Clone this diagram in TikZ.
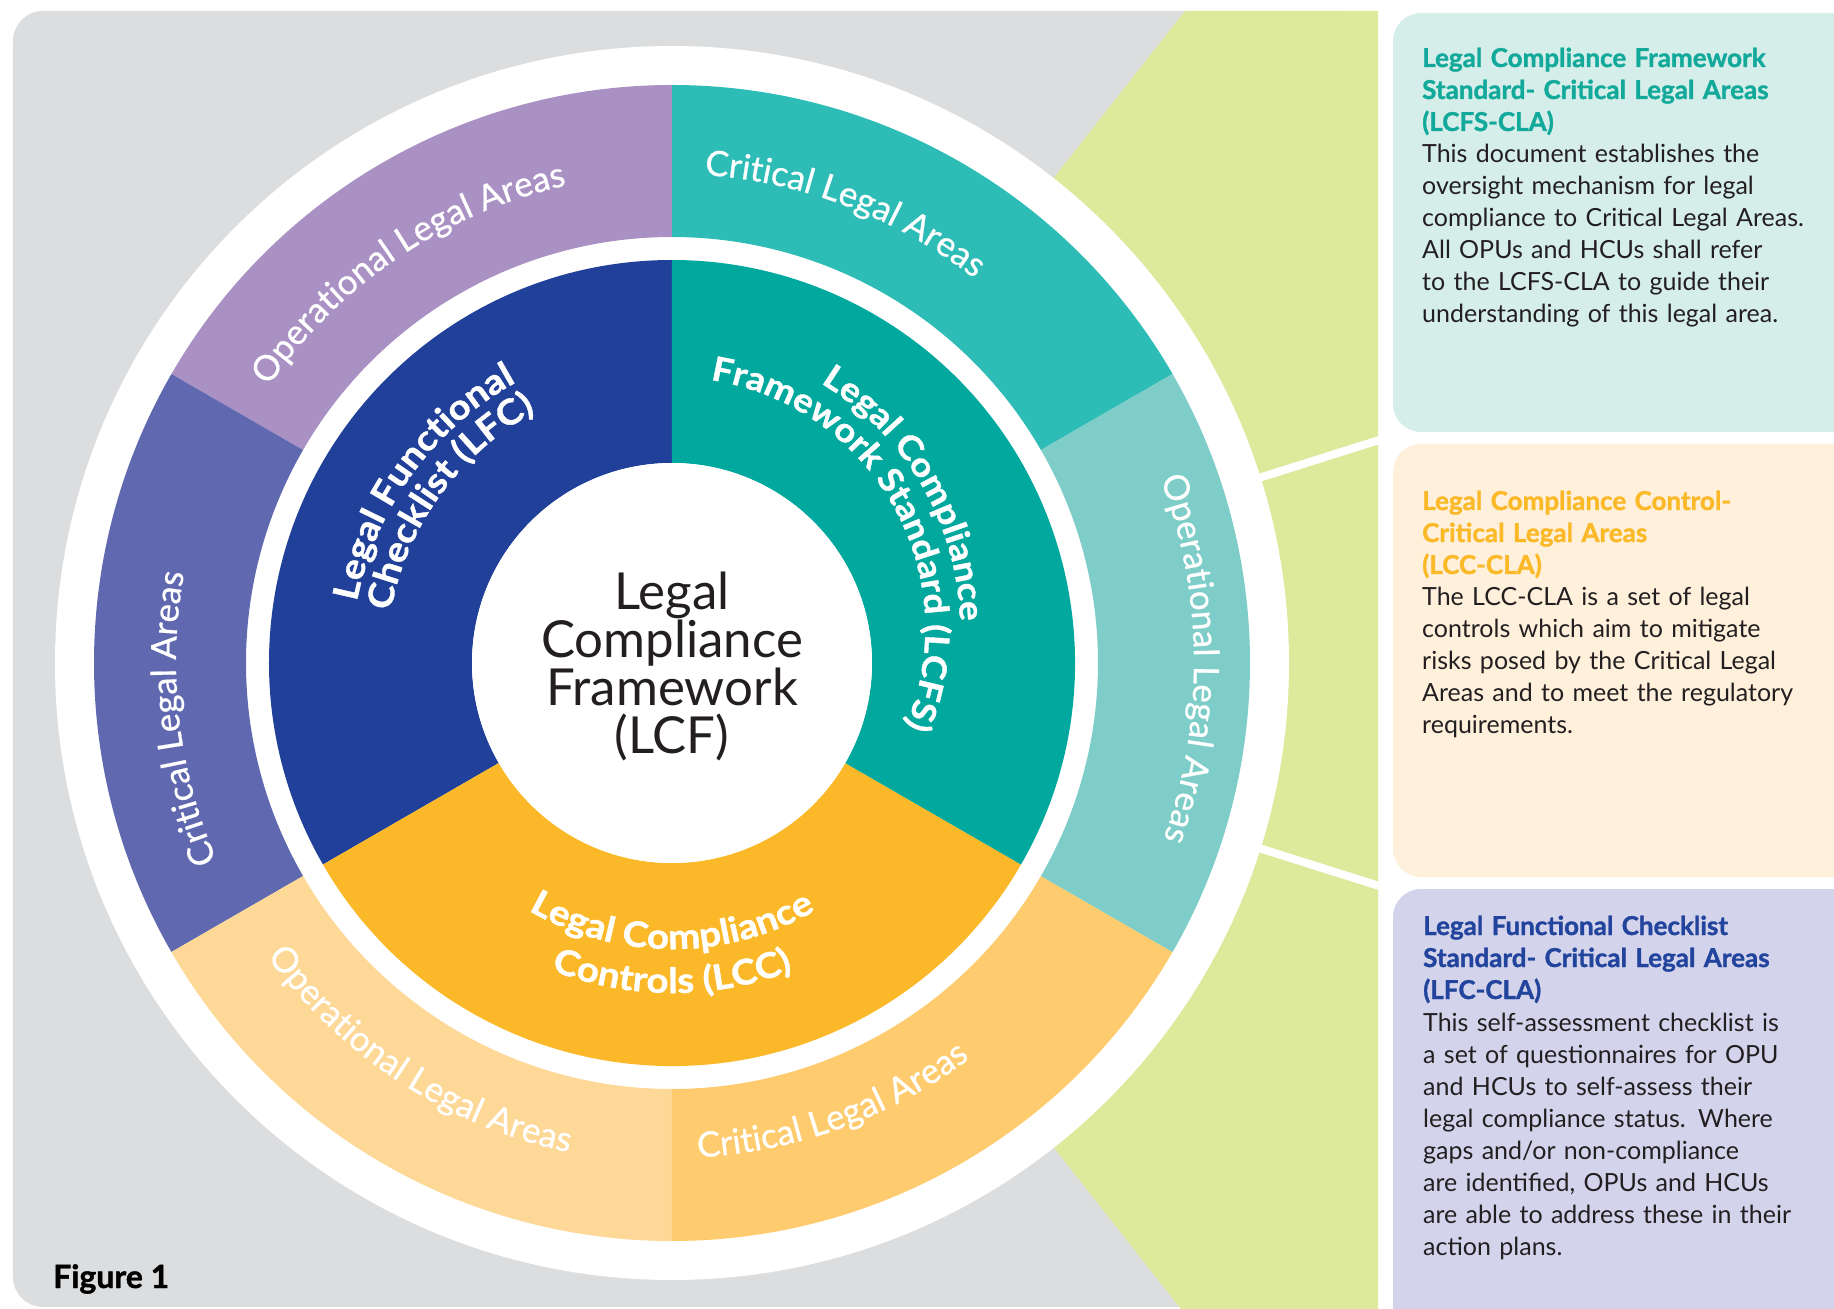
\documentclass[tikz,border=0pt]{standalone}
\usepackage{fontspec}
\setmainfont{Lato}
\newfontfamily\medfont{Lato}[FakeBold=0.6]
\newfontfamily\heavyfont{Lato}[BoldFeatures={FakeBold=1.2}]
\newfontfamily\ringheavy{Lato}[BoldFeatures={FakeBold=1.2,FakeStretch=1.1}]
\usetikzlibrary{decorations.text}
\definecolor{bgGray}{HTML}{DCDDDF}
\definecolor{wedgeGreen}{HTML}{DDE99B}
\definecolor{oTeal}{HTML}{2EBDB6}
\definecolor{oPurple}{HTML}{AA91C4}
\definecolor{oBlue}{HTML}{6069B0}
\definecolor{oLightOrange}{HTML}{FDD896}
\definecolor{oOrange}{HTML}{FECC6E}
\definecolor{oLightTeal}{HTML}{7ECDC8}
\definecolor{iBlue}{HTML}{204099}
\definecolor{iTeal}{HTML}{00A89D}
\definecolor{iYellow}{HTML}{FBB828}
\definecolor{boxTeal}{HTML}{D5EEEA}
\definecolor{boxCream}{HTML}{FEF0DB}
\definecolor{boxLav}{HTML}{D3D3EC}
\definecolor{ttlTeal}{HTML}{12A99B}
\definecolor{ttlYellow}{HTML}{FBB827}
\definecolor{ttlBlue}{HTML}{22449C}
\definecolor{inkDark}{HTML}{231F20}
\newcommand{\sector}[5]{\fill[#1] (#2:#4pt) arc[start angle=#2,end angle=#3,radius=#4pt] -- (#3:#5pt) arc[start angle=#3,end angle=#2,radius=#5pt] -- cycle;}
\newcommand{\ringtext}[5]{\path[decorate,decoration={text along path,text align=center,text={|#4|#5}}] (#2:#1pt) arc[start angle=#2,end angle=#3,radius=#1pt];}
\newcommand{\spiraltext}[6]{\path[decorate,decoration={text along path,text align=center,text={|#5|#6}}] plot[domain=#3:#4,samples=121,variable=\t] (\t:{#1+#2*sin(\t)});}
\newcommand{\ttl}[2]{\textcolor{#1}{\heavyfont\bfseries\fontsize{26}{32}\selectfont #2}}
\newcommand{\outerfmt}{\color{white}\medfont\fontsize{35}{35}\selectfont}
\newcommand{\innerfmt}{\color{white}\ringheavy\bfseries\fontsize{35}{35}\selectfont}
\newcommand{\tealfmt}{\color{white}\ringheavy\bfseries\fontsize{33.5}{33.5}\selectfont}
\tikzset{
  boxtext/.style={anchor=base west, inner sep=0pt, text width=440pt, align=left, text=inkDark, font=\fontsize{25}{32}\selectfont},
  infobox/.style={rounded corners=28pt},
}
\begin{document}
\begin{tikzpicture}[x=1pt,y=1pt]
\useasboundingbox (-672,-646) rectangle (1162,663);
% background
\fill[bgGray, rounded corners=30pt] (-659,-644) rectangle (706,652);
\fill[wedgeGreen] (0,0) -- (513,652) -- (706,652) -- (706,-646) -- (509,-646) -- cycle;
\draw[white, line width=8pt] (17.5:600pt) -- (17.5:741pt);
\draw[white, line width=8pt] (-17.5:600pt) -- (-17.5:741pt);
% white disc
\fill[white] (0,0) circle[radius=617pt];
% outer ring
\sector{oTeal}{30}{90}{578}{426}
\sector{oPurple}{90}{150}{578}{426}
\sector{oBlue}{150}{210}{578}{426}
\sector{oLightOrange}{210}{270}{578}{426}
\sector{oOrange}{270}{330}{578}{426}
\sector{oLightTeal}{-30}{30}{578}{426}
% inner ring
\sector{iBlue}{90}{210}{403}{200}
\sector{iYellow}{210}{330}{403}{200}
\sector{iTeal}{-30}{90}{403}{200}
\fill[white] (0,0) circle[radius=200pt];
% center text
\node[anchor=base, inner sep=0pt, text width=400pt, align=center, text=inkDark, font=\fontsize{51}{48}\selectfont] (lcf) at (0,53) {Legal\\Compliance\\Framework\\(LCF)};
% outer ring texts
\ringtext{489}{164}{84}{\outerfmt}{Operational Legal Areas}
\ringtext{489}{109}{29}{\outerfmt}{Critical Legal Areas}
\ringtext{496}{226.5}{146.5}{\outerfmt}{Critical Legal Areas}
\ringtext{522}{40.5}{-39.5}{\outerfmt}{Operational Legal Areas}
\ringtext{500}{197}{277}{\outerfmt}{Operational Legal Areas}
\ringtext{495}{250}{330}{\outerfmt}{Critical Legal Areas}
% inner ring texts
\ringtext{321}{204}{84}{\innerfmt}{Legal Functional}
\ringtext{286}{204}{84}{\innerfmt}{Checklist (LFC)}
\spiraltext{286}{35}{94}{-28}{\tealfmt}{Legal Compliance}
\spiraltext{251}{35}{93.5}{-28.5}{\tealfmt}{Framework Standard (LCFS)}
\ringtext{286}{210}{330}{\innerfmt}{Legal Compliance}
\ringtext{330}{210}{330}{\innerfmt}{Controls (LCC)}
% info boxes
\fill[boxTeal, infobox] (721,231) rectangle (1200,650);
\fill[boxCream, infobox] (721,-214) rectangle (1200,219);
\fill[boxLav, infobox] (721,-700) rectangle (1200,-226);
\node[boxtext] (lcfsText) at (750,596) {\ttl{ttlTeal}{Legal Compliance Framework}\\\ttl{ttlTeal}{Standard- Critical Legal Areas}\\\ttl{ttlTeal}{(LCFS-CLA)}\\This document establishes the\\oversight mechanism for legal\\compliance to Critical Legal Areas.\\All OPUs and HCUs shall refer\\to the LCFS-CLA to guide their\\understanding of this legal area.};
\node[boxtext] (lccText) at (750,153) {\ttl{ttlYellow}{Legal Compliance Control-}\\\ttl{ttlYellow}{Critical Legal Areas}\\\ttl{ttlYellow}{(LCC-CLA)}\\The LCC-CLA is a set of legal\\controls which aim to mitigate\\risks posed by the Critical Legal\\Areas and to meet the regulatory\\requirements.};
\node[boxtext] (lfcText) at (751,-272) {\ttl{ttlBlue}{Legal Functional Checklist}\\\ttl{ttlBlue}{Standard- Critical Legal Areas}\\\ttl{ttlBlue}{(LFC-CLA)}\\This self-assessment checklist is\\a set of questionnaires for OPU\\and HCUs to self-assess their\\legal compliance status. Where\\gaps and/or non-compliance\\are identified, OPUs and HCUs\\are able to address these in their\\action plans.};
\node[anchor=base west, inner sep=0pt, font=\heavyfont\bfseries\fontsize{32}{32}\selectfont, text=black] (fig) at (-619,-625) {Figure 1};
\end{tikzpicture}
\end{document}
